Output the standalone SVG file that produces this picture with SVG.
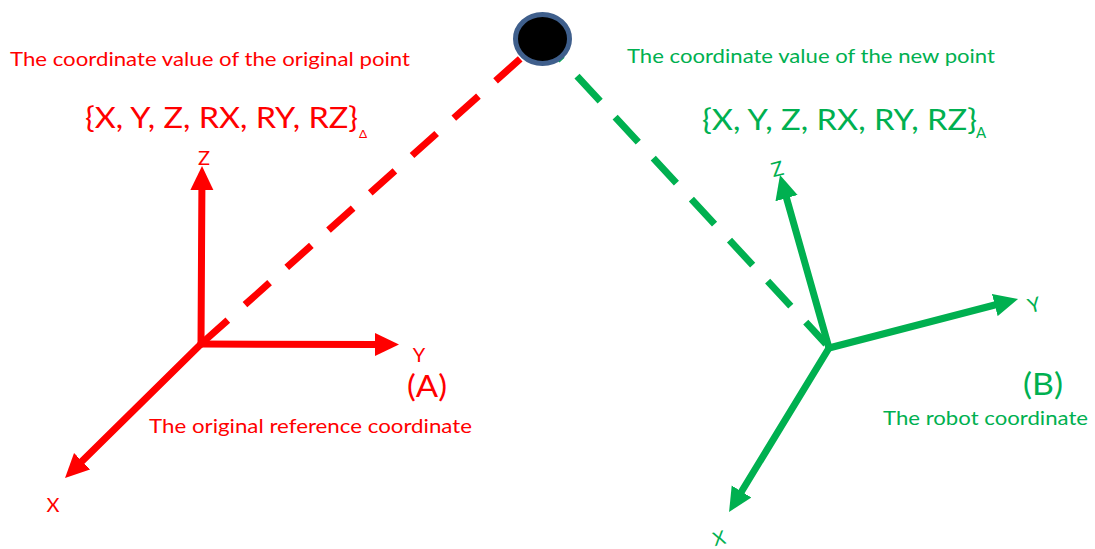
<svg xmlns="http://www.w3.org/2000/svg" width="1095" height="549" viewBox="0 0 1095 549">
<style>
text{font-family:Lato,"Open Sans","Liberation Sans",sans-serif}
.r{fill:#FF0000}
.g{fill:#00B050}
.ax{stroke-width:7;stroke-linecap:round;fill:none}
.ra{stroke:#FF0000;marker-end:url(#ar)}
.ga{stroke:#00B050;marker-end:url(#ag)}
.dash{stroke-width:7;fill:none}
</style>
<defs>
<marker id="ar" markerUnits="userSpaceOnUse" viewBox="0 -12 24 24" markerWidth="24" markerHeight="24" refX="2" refY="0" orient="auto"><path d="M0,-11.5 L24,0 L0,11.5 z" fill="#FF0000"/></marker>
<marker id="ag" markerUnits="userSpaceOnUse" viewBox="0 -12 24 24" markerWidth="24" markerHeight="24" refX="2" refY="0" orient="auto"><path d="M0,-11.5 L24,0 L0,11.5 z" fill="#00B050"/></marker>
</defs>
<g id="connectors">
<line class="dash" x1="203.2" y1="342" x2="520.2" y2="58.9" stroke="#FF0000" stroke-dasharray="33 23"/>
<line class="dash" x1="542.5" y1="39" x2="826" y2="344" stroke="#00B050" stroke-dasharray="34 22" stroke-dashoffset="5.3"/>
</g>
<g id="frameA">
<line class="ax ra" x1="201" y1="344" x2="201.9" y2="188"/>
<line class="ax ra" x1="201" y1="344" x2="377" y2="344.5"/>
<line class="ax ra" x1="201" y1="344" x2="80.7" y2="462.6"/>
<text class="r" x="204" y="165" font-size="20" text-anchor="middle">Z</text>
<text class="r" x="419" y="362" font-size="20" text-anchor="middle">Y</text>
<text class="r" x="53" y="512" font-size="20" text-anchor="middle">X</text>
<text class="r" x="407" y="397" font-size="30" textLength="40" lengthAdjust="spacingAndGlyphs">(A)</text>
<text class="r" x="149" y="433" font-size="20" textLength="323" lengthAdjust="spacingAndGlyphs">The original reference coordinate</text>
</g>
<g id="frameB">
<line class="ax ga" x1="829" y1="348" x2="786" y2="196.2"/>
<line class="ax ga" x1="829" y1="348" x2="996.7" y2="304.5"/>
<line class="ax ga" x1="829" y1="348" x2="740.5" y2="493.2"/>
<text class="g" x="777.5" y="176" font-size="20" text-anchor="middle" transform="rotate(-14 777.5 169)">Z</text>
<text class="g" x="1034" y="312" font-size="20" text-anchor="middle" transform="rotate(-14 1034 305)">Y</text>
<text class="g" x="719" y="545" font-size="19" text-anchor="middle" transform="rotate(-14 719 538)">X</text>
<text class="g" x="1023" y="395" font-size="30" textLength="40" lengthAdjust="spacingAndGlyphs">(B)</text>
<text class="g" x="883" y="425" font-size="20" textLength="205" lengthAdjust="spacingAndGlyphs">The robot coordinate</text>
</g>
<g id="point">
<ellipse cx="542.5" cy="39" rx="27" ry="24.5" fill="#000000" stroke="#3F5F8C" stroke-width="5"/>
</g>
<g id="labelA">
<text class="r" x="10" y="66" font-size="20" textLength="400" lengthAdjust="spacingAndGlyphs">The coordinate value of the original point</text>
<text class="r" x="85" y="128" font-size="28" textLength="273" lengthAdjust="spacingAndGlyphs">{X, Y, Z, RX, RY, RZ}</text>
<text class="r" x="359" y="138" font-size="12">Δ</text>
</g>
<g id="labelB">
<text class="g" x="702" y="130" font-size="28" textLength="275" lengthAdjust="spacingAndGlyphs">{X, Y, Z, RX, RY, RZ}</text>
<text class="g" x="627" y="63" font-size="20" textLength="368" lengthAdjust="spacingAndGlyphs">The coordinate value of the new point</text>
<text class="g" x="976" y="138" font-size="15">A</text>
</g>
</svg>
